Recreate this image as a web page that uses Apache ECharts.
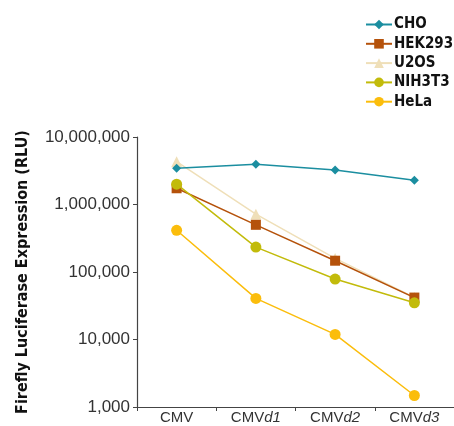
<!DOCTYPE html>
<html><head><meta charset="utf-8">
<script src="https://cdn.jsdelivr.net/npm/echarts@6/dist/echarts.min.js"></script>
<style>html,body{margin:0;padding:0;background:#fff}#c{width:454px;height:426px}</style>
</head><body><div id="c"></div>
<script>
const categories = ['CMV', 'CMVd1', 'CMVd2', 'CMVd3'];
const seriesNames = ['CHO', 'HEK293', 'U2OS', 'NIH3T3', 'HeLa'];
const cho = [3440000, 3950000, 3240000, 2280000];
const hek293 = [1740000, 500000, 147000, 41800];
const u2os = [4300000, 720000, 159000, 42000];
const nih3t3 = [2000000, 234000, 78700, 35000];
const hela = [415000, 40600, 11900, 1480];
const yTicks = [1000, 10000, 100000, 1000000, 10000000];

const colors = ['#1b8ea0', '#b5520b', '#efdfb8', '#c2bb0b', '#fbbd0c'];
const symbols = ['diamond', 'rect', 'triangle', 'circle', 'circle'];
const symSizes = [9, 10, 11, 11, 11];
const data = [cho, hek293, u2os, nih3t3, hela];
const order = [2, 0, 1, 3, 4];

const chart = echarts.init(document.getElementById('c'));
const FONT = 'DejaVu Sans Condensed, Liberation Sans Narrow, Arial Narrow, sans-serif';
chart.setOption({
  animation: false,
  legend: {
    orient: 'vertical', left: 360, top: 12,
    itemWidth: 26, itemHeight: 12, itemGap: 4.3,
    data: seriesNames,
    textStyle: { fontFamily: FONT, fontWeight: 'bold', fontSize: 15, lineHeight: 14, color: '#111', padding: [0, 0, 0, -3] }
  },
  grid: { left: 137, top: 137, right: 0, bottom: 19, containLabel: false },
  xAxis: {
    type: 'category', data: categories, boundaryGap: true,
    axisLine: { lineStyle: { color: '#444', width: 1.2 } },
    axisTick: { show: true, length: 4, inside: false, lineStyle: { color: '#444' } },
    axisLabel: {
      margin: 3, interval: 0,
      formatter: v => '{n|CMV}' + (v.length > 3 ? '{i|' + v.slice(3) + '}' : ''),
      rich: {
        n: { fontFamily: 'Liberation Sans, sans-serif', fontSize: 15, color: '#333' },
        i: { fontFamily: 'Liberation Sans, sans-serif', fontSize: 15, color: '#333', fontStyle: 'italic' }
      }
    }
  },
  yAxis: {
    type: 'log', logBase: 10, min: yTicks[0], max: yTicks[yTicks.length - 1],
    name: 'Firefly Luciferase Expression (RLU)', nameLocation: 'middle', nameGap: 106,
    nameTextStyle: { fontFamily: FONT, fontWeight: 'bold', fontSize: 16, color: '#111' },
    axisLine: { show: true, lineStyle: { color: '#444', width: 1.2 } },
    axisTick: { show: true, length: 4, lineStyle: { color: '#444' } },
    splitLine: { show: false },
    axisLabel: {
      margin: 7, fontFamily: 'Liberation Sans, sans-serif', fontSize: 17, color: '#333',
      formatter: v => Math.round(v).toLocaleString('en-US')
    }
  },
  series: order.map(k => ({
    name: seriesNames[k], type: 'line', data: data[k],
    symbol: symbols[k], symbolSize: symSizes[k], showSymbol: true,
    itemStyle: { color: colors[k] },
    lineStyle: { color: colors[k], width: 1.5 },
    z: 2 + order.indexOf(k)
  }))
});
</script></body></html>
